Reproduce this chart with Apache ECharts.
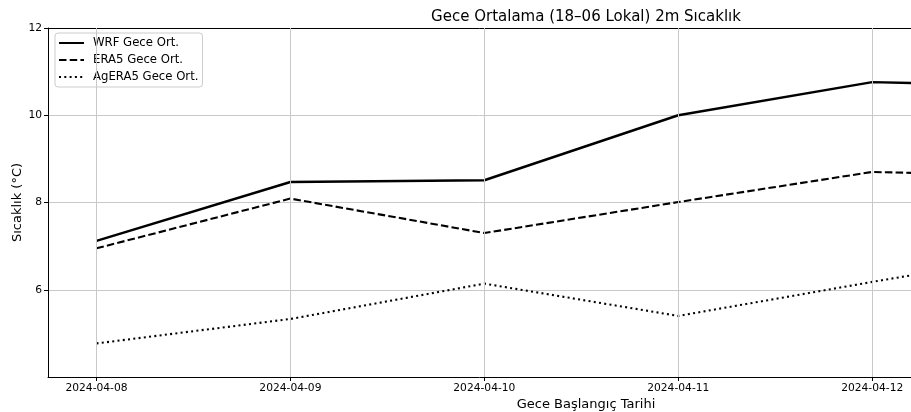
<!DOCTYPE html>
<html>
<head>
<meta charset="utf-8">
<title>Gece Ortalama 2m Sıcaklık</title>
<script src="https://cdn.jsdelivr.net/npm/echarts@6/dist/echarts.min.js"></script>
<style>
  html, body { margin: 0; padding: 0; background: #fff; }
  #chart { width: 911px; height: 412px; }
</style>
</head>
<body>
<div id="chart"></div>
<script>
// night start dates (last one falls outside the visible window, the line runs off the edge)
const dates = ["2024-04-08", "2024-04-09", "2024-04-10", "2024-04-11", "2024-04-12", "2024-04-13"]
const wrf = [7.12, 8.47, 8.51, 10.0, 10.76, 10.66]
const era5 = [6.95, 8.09, 7.30, 8.01, 8.70, 8.60]
const agera5 = [4.77, 5.33, 6.14, 5.40, 6.18, 6.93]
const yTicks = [6, 8, 10, 12]

const FONT = "DejaVu Sans"
const GRID = "#c8c8c8"
const X_MIN = -0.25
const X_MAX = 4.2

const xTicks = dates.map((d, i) => i).filter((i) => i <= X_MAX)
const toPairs = (arr) => arr.map((v, i) => [i, v])

const chart = echarts.init(document.getElementById("chart"), null, { renderer: "canvas" })

const lineSeries = (name, values, type, width) => ({
  name: name,
  type: "line",
  data: toPairs(values),
  symbol: "none",
  clip: true,
  z: 3,
  lineStyle: { color: "#000", width: width, type: type, cap: "butt" },
  itemStyle: { color: "#000" },
})

const option = {
  animation: false,
  backgroundColor: "#fff",
  textStyle: { fontFamily: FONT },
  title: [
    {
      text: "Gece Ortalama (18–06 Lokal) 2m Sıcaklık",
      left: 581,
      top: 5,
      textAlign: "center",
      textStyle: { fontFamily: FONT, fontSize: 15, fontWeight: "normal", color: "#000" },
    },
    {
      text: "Gece Başlangıç Tarihi",
      left: 581,
      top: 393,
      textAlign: "center",
      textStyle: { fontFamily: FONT, fontSize: 13, fontWeight: "normal", color: "#000" },
    },
  ],
  legend: {
    data: ["WRF Gece Ort.", "ERA5 Gece Ort.", "AgERA5 Gece Ort."],
    orient: "vertical",
    left: 55,
    top: 33,
    padding: [4, 4, 4, 3],
    itemWidth: 25,
    itemHeight: 12,
    itemGap: 5,
    itemStyle: { opacity: 0 },
    backgroundColor: "rgba(255,255,255,0.8)",
    borderColor: "#cccccc",
    borderWidth: 1,
    borderRadius: 3,
    textStyle: { fontFamily: FONT, fontSize: 11.7, color: "#000", padding: [0, 0, 0, 4] },
  },
  grid: { left: 48, right: 0, top: 28, bottom: 35, containLabel: false, outerBoundsMode: "none" },
  xAxis: [
    {
      type: "value",
      min: X_MIN,
      max: X_MAX,
      axisLine: { show: true, onZero: false, lineStyle: { color: "#000", width: 1 } },
      axisTick: { show: true, length: 4, customValues: xTicks, lineStyle: { color: "#000" } },
      axisLabel: {
        customValues: xTicks,
        margin: 6,
        fontSize: 10.7,
        color: "#000",
        fontFamily: FONT,
        formatter: (v) => dates[Math.round(v)] || "",
      },
      splitLine: { show: false },
    },
    {
      type: "value",
      position: "top",
      min: X_MIN,
      max: X_MAX,
      axisLine: { show: true, onZero: false, lineStyle: { color: "#000", width: 1 } },
      axisTick: { show: false },
      axisLabel: { show: false },
      splitLine: { show: false },
    },
  ],
  yAxis: {
    type: "value",
    min: 4,
    max: 12,
    interval: 2,
    name: "Sıcaklık (°C)",
    nameLocation: "middle",
    nameGap: 24,
    nameMoveOverlap: false,
    nameTextStyle: { fontFamily: FONT, fontSize: 13, color: "#000" },
    axisLine: { show: true, onZero: false, lineStyle: { color: "#000", width: 1 } },
    axisTick: { show: true, length: 4, customValues: yTicks, lineStyle: { color: "#000" } },
    axisLabel: {
      customValues: yTicks,
      margin: 6,
      fontSize: 10.7,
      color: "#000",
      fontFamily: FONT,
    },
    splitLine: { show: true, lineStyle: { color: GRID, width: 1 } },
  },
  series: [
    {
      // vertical grid lines at the date ticks
      type: "line",
      data: [],
      z: 1,
      silent: true,
      markLine: {
        silent: true,
        symbol: ["none", "none"],
        label: { show: false },
        animation: false,
        lineStyle: { color: GRID, width: 1, type: "solid" },
        data: xTicks.map((i) => ({ xAxis: i })),
      },
    },
    lineSeries("WRF Gece Ort.", wrf, "solid", 2.4),
    lineSeries("ERA5 Gece Ort.", era5, [7.5, 3.2], 2.1),
    lineSeries("AgERA5 Gece Ort.", agera5, [2, 3.3], 2.1),
  ],
}

chart.setOption(option)
</script>
</body>
</html>
